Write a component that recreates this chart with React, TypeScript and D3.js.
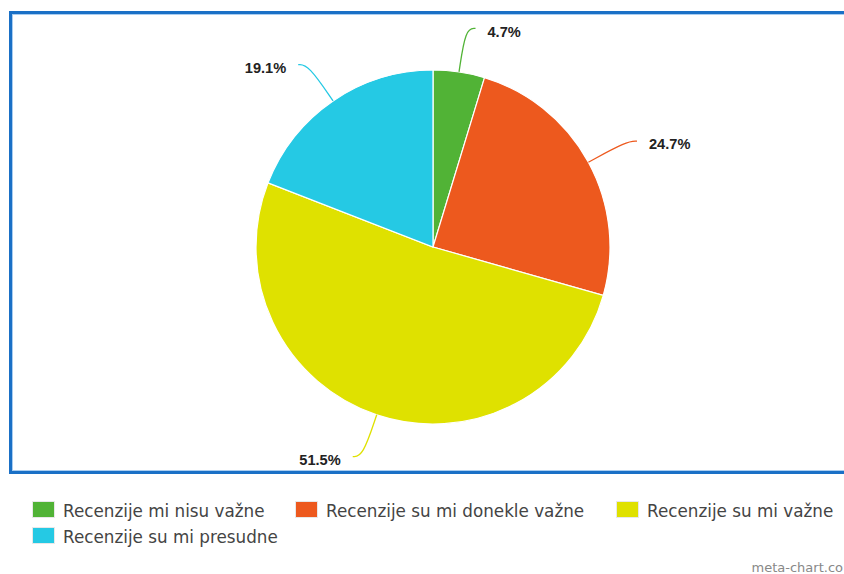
import React from "react";
import * as d3 from "d3";

const categories = [
  "Recenzije mi nisu važne",
  "Recenzije su mi donekle važne",
  "Recenzije su mi važne",
  "Recenzije su mi presudne",
];
const values = [4.7, 24.7, 51.5, 19.1];
const colors = ["#51b336", "#ed591e", "#dfe100", "#25c9e4"];

const W = 844;
const H = 574;
const cx = 433;
const cy = 247;
const R = 177;
const EXT = 44;
const HLEN = 10;
const GAP = 12;

const legendPos = [
  { x: 32, y: 501 },
  { x: 295, y: 501 },
  { x: 616, y: 501 },
  { x: 32, y: 527 },
];

export default function App() {
  const pie = d3.pie<number>().sort(null).value((d) => d);
  const arcs = pie(values);
  const arcGen = d3.arc<d3.PieArcDatum<number>>().innerRadius(0).outerRadius(R);
  const lineGen = d3
    .line<[number, number]>()
    .x((d) => d[0])
    .y((d) => d[1])
    .curve(d3.curveBasis);

  return (
    <svg
      width={W}
      height={H}
      style={{ position: "absolute", left: 0, top: 0, background: "#fff" }}
    >
      <rect x={0} y={0} width={W} height={H} fill="#fff" />
      <rect x={10.5} y={12.5} width={900} height={460} fill="none" stroke="#1a70c6" strokeWidth={3} />
      <rect x={12.5} y={14.5} width={900} height={456} fill="none" stroke="#a9cdf0" strokeWidth={1} />
      <g transform={`translate(${cx},${cy})`}>
        {arcs.map((a, i) => (
          <path key={i} d={arcGen(a) || ""} fill={colors[i]} stroke="#fff" strokeWidth={1.2} />
        ))}
      </g>
      {arcs.map((a, i) => {
        const mid = (a.startAngle + a.endAngle) / 2;
        const sx = Math.sin(mid);
        const sy = -Math.cos(mid);
        const right = sx >= 0;
        const p0: [number, number] = [cx + R * sx, cy + R * sy];
        const p1: [number, number] = [cx + (R + EXT) * sx, cy + (R + EXT) * sy];
        const p2: [number, number] = [p1[0] + (right ? HLEN : -HLEN), p1[1]];
        return (
          <g key={i}>
            <path d={lineGen([p0, p1, p2]) || ""} fill="none" stroke={colors[i]} strokeWidth={1.3} />
            <text
              x={p2[0] + (right ? GAP : -GAP)}
              y={p2[1] + 3}
              dy="0.35em"
              textAnchor={right ? "start" : "end"}
              fontFamily="'Liberation Sans', Arial, sans-serif"
              fontWeight="bold"
              fontSize={14.6}
              fill="#222"
            >
              {values[i].toFixed(1)}%
            </text>
          </g>
        );
      })}
      {categories.map((c, i) => (
        <g key={c} transform={`translate(${legendPos[i].x},${legendPos[i].y})`}>
          <rect x={0.5} y={0.5} width={22} height={16} fill={colors[i]} stroke="#e8e8e8" strokeWidth={1} />
          <text
            x={31}
            y={16}
            fontFamily="'DejaVu Sans', Verdana, sans-serif"
            fontSize={16.8}
            fill="#444"
          >
            {c}
          </text>
        </g>
      ))}
      <text
        x={843}
        y={572}
        textAnchor="end"
        fontFamily="'DejaVu Sans', Verdana, sans-serif"
        fontSize={13}
        fill="#888"
      >
        meta-chart.co
      </text>
    </svg>
  );
}
